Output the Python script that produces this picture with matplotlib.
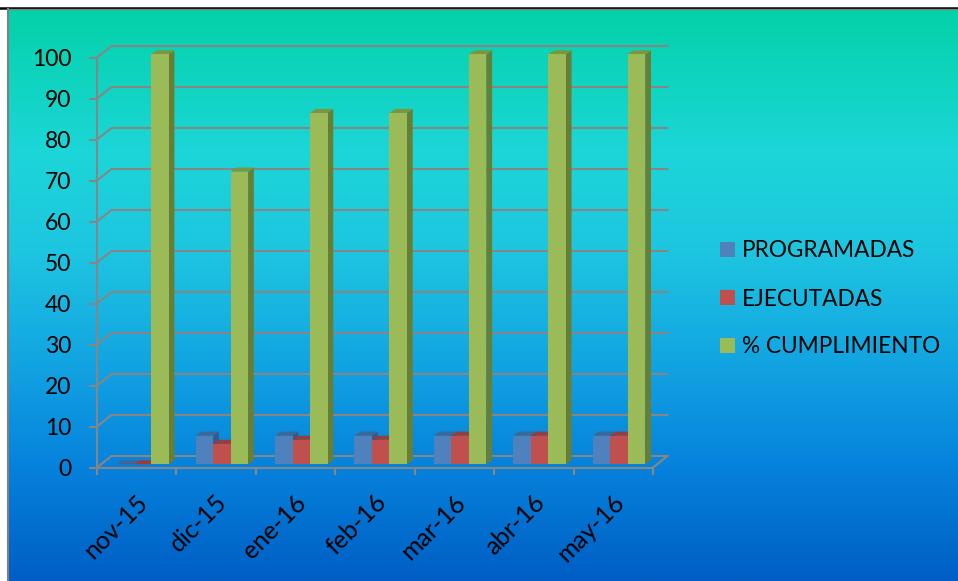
import numpy as np
import matplotlib
matplotlib.use("Agg")
import matplotlib.pyplot as plt
from matplotlib.patches import Polygon, Rectangle
from matplotlib.colors import LinearSegmentedColormap
from matplotlib.lines import Line2D
import matplotlib.transforms as mtransforms

# --- data ---
months = ["nov-15", "dic-15", "ene-16", "feb-16", "mar-16", "abr-16", "may-16"]
programadas = [0, 7, 7, 7, 7, 7, 7]
ejecutadas = [0, 5, 6, 6, 7, 7, 7]
cumplimiento = [100, 71.4, 85.7, 85.7, 100, 100, 100]
series_names = ["PROGRAMADAS", "EJECUTADAS", "% CUMPLIMIENTO"]
y_ticks = list(range(0, 101, 10))

# --- style ---
FONT = "Lato"
front_colors = ["#4F81BD", "#C0504D", "#9BBB59"]
top_colors = ["#3D6797", "#9B3C3A", "#7B963F"]
side_colors = ["#36598A", "#8A3432", "#677F35"]
grid_color = "#868686"

W, H = 958, 581
fig = plt.figure(figsize=(W / 100, H / 100), dpi=100, facecolor="white")


def fx(px):
    return px / W


def fy(py):
    return (H - py) / H


# gradient backdrop
bg = fig.add_axes([fx(8.5), 0, 1 - fx(8.5), fy(9.5)])
bg.set_axis_off()
grad_cmap = LinearSegmentedColormap.from_list(
    "bg",
    [(0.0, "#03D2A8"), (0.25, "#1CD6D8"), (0.42, "#1EC6E0"),
     (0.62, "#12A4E2"), (0.80, "#0682DC"), (1.0, "#005EC4")],
)
bg.imshow(np.linspace(0, 1, 256)[:, None], aspect="auto", cmap=grad_cmap,
          extent=[0, 1, 0, 1])
bg.set_xlim(0, 1)
bg.set_ylim(0, 1)

# frame lines around the backdrop
fig.add_artist(Line2D([0, 1], [fy(7.7), fy(7.7)], color="black", lw=1.8))
fig.add_artist(Line2D([fx(8.5), 1], [fy(9.3), fy(9.3)], color="#808080", lw=1.0))
fig.add_artist(Line2D([fx(7.5), fx(7.5)], [0, fy(8.5)], color="#808080", lw=1.5))

# plotting area (front plane of the 3D box)
ax = fig.add_axes([fx(97), fy(467.5), fx(653 - 97), (467.5 - 57.5) / H])
ax.patch.set_alpha(0)
ncat = len(months)
ax.set_xlim(0, ncat)
ax.set_ylim(0, 100)

px_x = (653 - 97) / ncat        # pixels per category
px_y = (467.5 - 57.5) / 100     # pixels per value unit

# depth of the box and of the bars, in data units
dep_x, dep_y = 14.5 / px_x, 11.5 / px_y
bar_off_x, bar_off_y = 4.0 / px_x, 3.2 / px_y
bar_dx, bar_dy = 5.7 / px_x, 4.0 / px_y
bar_w = 17.5 / px_x
group_off = 15.2 / px_x

for sp in ["top", "right"]:
    ax.spines[sp].set_visible(False)
for sp in ["left", "bottom"]:
    ax.spines[sp].set_color(grid_color)
    ax.spines[sp].set_linewidth(1.5)

# y ticks
ax.set_yticks(y_ticks)
ax.set_yticklabels([str(v) for v in y_ticks], fontsize=16.5, family=FONT)
ax.tick_params(axis="y", length=5.8, width=1.5, color=grid_color, pad=12.5)

# x ticks at category boundaries, labels at centres
ax.set_xticks(range(ncat + 1))
ax.set_xticklabels([])
ax.tick_params(axis="x", length=5, width=1.5, color=grid_color)

# back gridlines and floor
for v in y_ticks:
    ax.plot([0, dep_x, ncat + dep_x], [v, v + dep_y, v + dep_y],
            color=grid_color, lw=1.5, clip_on=False, zorder=1)
ax.plot([ncat, ncat + dep_x], [0, dep_y], color=grid_color, lw=1.5,
        clip_on=False, zorder=1)

# 3D bars
all_series = [programadas, ejecutadas, cumplimiento]
for i in range(ncat):
    for s, vals in enumerate(all_series):
        h = vals[i]
        x0 = i + group_off + s * bar_w + bar_off_x
        b0 = bar_off_y
        z = 3 + i * 3 + s
        side = Polygon([(x0 + bar_w, b0), (x0 + bar_w + bar_dx, b0 + bar_dy),
                        (x0 + bar_w + bar_dx, b0 + h + bar_dy), (x0 + bar_w, b0 + h)],
                       closed=True, facecolor=side_colors[s], edgecolor="none",
                       clip_on=False, zorder=z)
        top = Polygon([(x0, b0 + h), (x0 + bar_w, b0 + h),
                       (x0 + bar_w + bar_dx, b0 + h + bar_dy), (x0 + bar_dx, b0 + h + bar_dy)],
                      closed=True, facecolor=top_colors[s], edgecolor="none",
                      clip_on=False, zorder=z)
        ax.add_patch(side)
        ax.add_patch(top)
        ax.bar(x0, h, width=bar_w, bottom=b0, align="edge",
               color=front_colors[s], edgecolor="none", clip_on=False, zorder=z)

# category labels
lab_tr = ax.transData + mtransforms.ScaledTranslation(-1 / 100, -23 / 100, fig.dpi_scale_trans)
for i, m in enumerate(months):
    ax.text(i + 0.5, 0, m, transform=lab_tr, rotation=45, rotation_mode="anchor",
            ha="right", va="top", fontsize=18, family=FONT, color="black")

# legend
leg_base = [257.3, 305.7, 353.3]
for s, name in enumerate(series_names):
    fig.add_artist(Rectangle((fx(720), fy(leg_base[s] - 0.5)), fx(15), 15 / H,
                             facecolor=front_colors[s], edgecolor="none"))
    fig.text(fx(742.3), fy(leg_base[s]), name, fontsize=16.3, family=FONT,
             va="baseline", ha="left", color="black")

fig.savefig("out.png", dpi=100, facecolor="white")
